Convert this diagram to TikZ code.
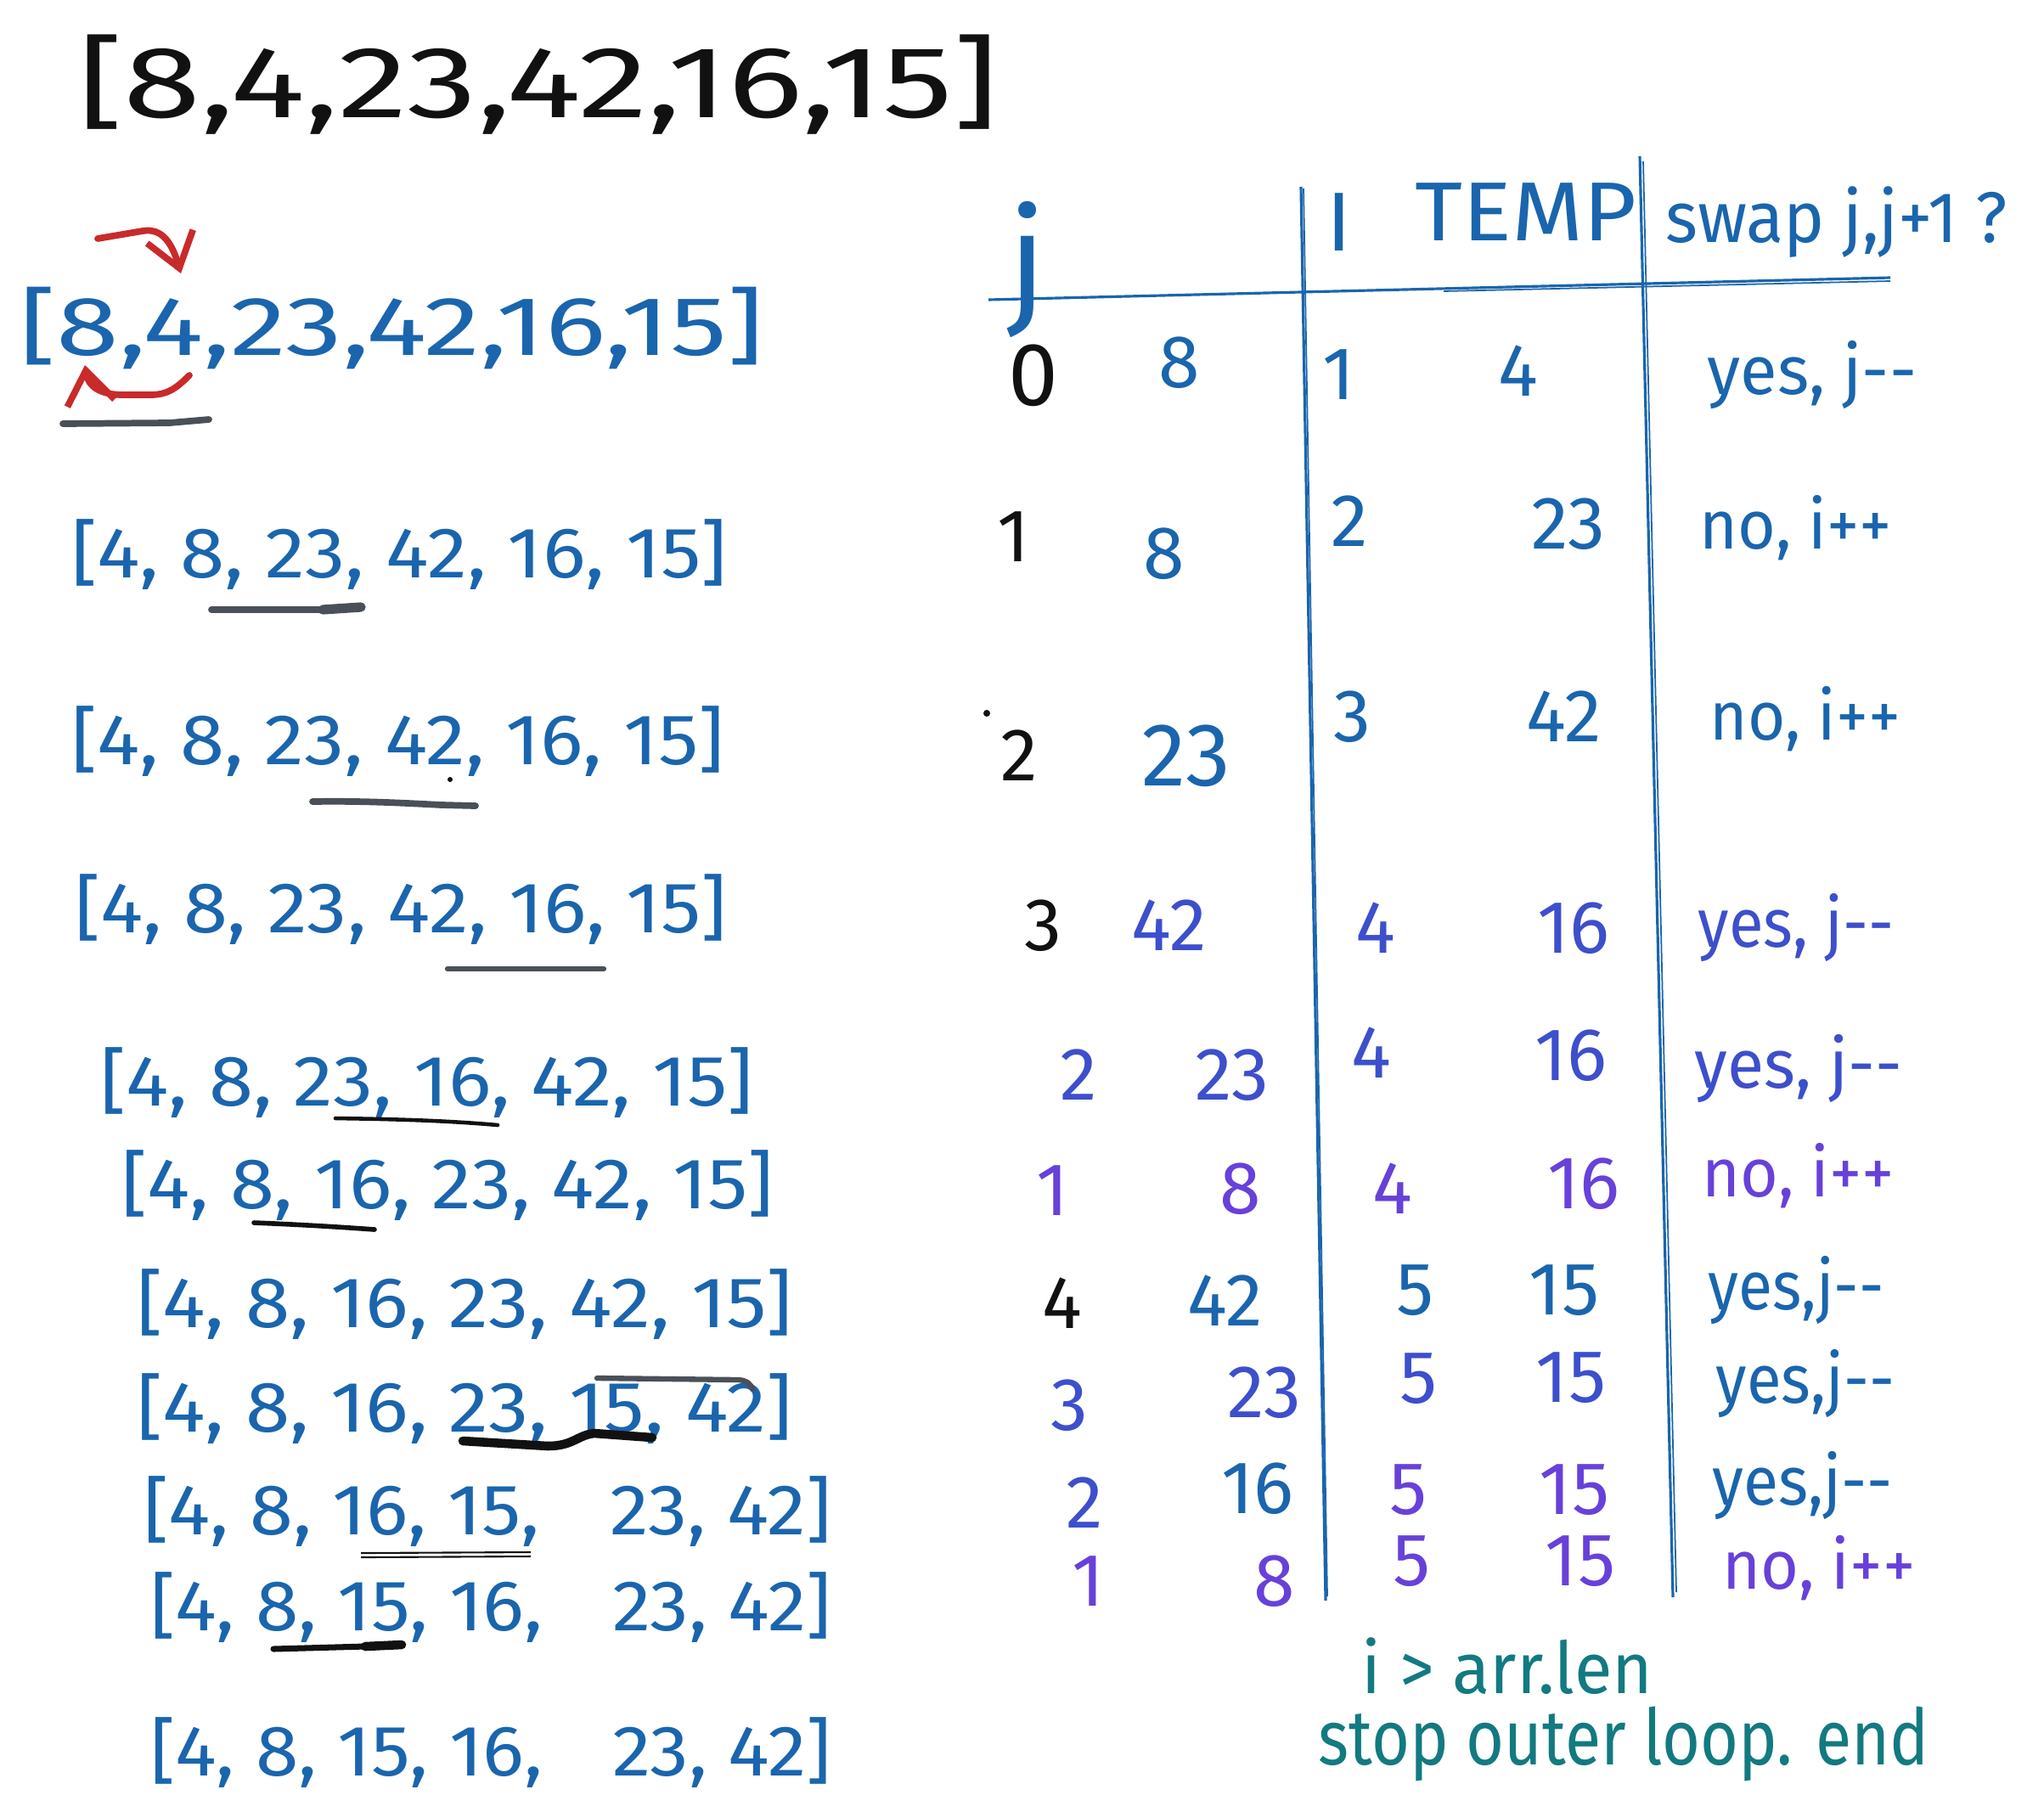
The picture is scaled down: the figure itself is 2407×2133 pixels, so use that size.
\documentclass[tikz,border=0pt]{standalone}
\usepackage{fontspec}
\setmainfont{Fira Sans}
\usepackage{graphicx}
\usetikzlibrary{arrows.meta}
\definecolor{cblue}{HTML}{1A65AD}
\definecolor{cindigo}{HTML}{3D4FCC}
\definecolor{cpurple}{HTML}{6741D9}
\definecolor{cteal}{HTML}{127A80}
\definecolor{cred}{HTML}{C92A2A}
\definecolor{cgray}{HTML}{495057}
\definecolor{cink}{HTML}{111111}
\newcommand\fw[2]{\resizebox{#1cm}{\height}{#2}}
\begin{document}
\begin{tikzpicture}[x=0.01cm,y=-0.01cm,
  arr/.style={anchor=base west,inner sep=0pt,text=cblue,font=\fontsize{24}{24}\selectfont},
  cell/.style={inner sep=0pt,font=\fontsize{25}{25}\selectfont},
  swp/.style={inner sep=0pt,font=\fontsize{23}{23}\selectfont},
  tb/.style={cell,text=cblue},
  ti/.style={cell,text=cindigo},
  tp/.style={cell,text=cpurple},
  tk/.style={cell,text=cink},
  ul/.style={line width=2.2pt,line cap=round,draw=cgray},
  ulk/.style={line width=2.2pt,line cap=round,draw=cink},
  grid/.style={line width=0.9pt,draw=cblue},
  grid2/.style={line width=0.5pt,draw=cblue},
  redarr/.style={line width=2.2pt,draw=cred,line cap=round,-{Straight Barb[length=11pt,width=16pt,line width=2.2pt]}}]
\useasboundingbox (0,0) rectangle (2407,2133);
\fill[white] (0,0) rectangle (2407,2133);

% title
\node[anchor=base west,inner sep=0pt,text=cink,font=\fontsize{34}{34}\selectfont] (title) at (92,138) {\fw{10.82}{[8,4,23,42,16,15]}};

% big blue array
\node[anchor=base west,inner sep=0pt,text=cblue,font=\fontsize{28}{28}\selectfont] (big) at (23,418) {\fw{8.75}{[8,4,23,42,16,15]}};
\draw[redarr] (115,281) -- (168,272) .. controls (192,268) and (203,288) .. (213,322);
\draw[redarr] (223,442) .. controls (205,460) and (195,466) .. (170,465) -- (145,465) .. controls (118,465) and (104,455) .. (100,430);
\draw[ul] (74,499) -- (200,498) -- (246,494);

% rows
\node[arr] (r1) at (84,680) {\fw{7.71}{[4, 8, 23, 42, 16, 15]}};
\node[arr] (r2) at (84,900) {\fw{7.68}{[4, 8, 23, 42, 16, 15]}};
\node[arr] (r3) at (88,1098) {\fw{7.67}{[4, 8, 23, 42, 16, 15]}};
\node[arr] (r4) at (118,1302) {\fw{7.68}{[4, 8, 23, 16, 42, 15]}};
\node[arr] (r5) at (143,1423) {\fw{7.67}{[4, 8, 16, 23, 42, 15]}};
\node[arr] (r6) at (161,1563) {\fw{7.71}{[4, 8, 16, 23, 42, 15]}};
\node[arr] (r7) at (161,1686) {\fw{7.71}{[4, 8, 16, 23, 15, 42]}};
\node[arr] (r8) at (169,1807) {\fw{8.09}{[4, 8, 16, 15,\hspace{0.9em}23, 42]}};
\node[arr] (r9) at (177,1920) {\fw{8.01}{[4, 8, 15, 16,\hspace{0.9em}23, 42]}};
\node[arr] (r10) at (177,2091) {\fw{8.01}{[4, 8, 15, 16,\hspace{0.9em}23, 42]}};

% underlines
\draw[ul] (249,718) -- (380,718);
\draw[ul,line width=3.2pt] (380,718) -- (425,715);
\draw[ul] (368,944) .. controls (430,943) and (480,946) .. (520,948) -- (560,949);
\fill[cink] (530,918) circle (3);
\draw[ul,line width=1.8pt] (527,1141) -- (711,1141);
\draw[ulk,line width=1.3pt] (395,1317) .. controls (470,1318) and (530,1320) .. (586,1325);
\draw[ulk,line width=1.6pt] (299,1440) .. controls (350,1442) and (400,1445) .. (441,1448);
\draw[ulk,line width=3pt] (545,1697) -- (645,1703) .. controls (675,1703) and (680,1690) .. (700,1688) -- (768,1693);
\draw[ul,line width=1.8pt] (703,1623) -- (870,1625) .. controls (880,1626) and (884,1630) .. (886,1636);
\draw[cink,line width=0.6pt] (425,1829) -- (625,1828);
\draw[cink,line width=0.6pt] (425,1834) -- (625,1833);
\draw[ulk,line width=2pt] (322,1942) -- (430,1939);
\draw[ulk,line width=3pt] (430,1939) -- (473,1937);

% table lines
\draw[grid] (1164,353) -- (2226,327);
\draw[grid2] (1700,343) -- (2226,331);
\draw[grid] (1532,220) -- (1561,1885);
\draw[grid2] (1535,222) -- (1563,1880);
\draw[grid] (1931,184) -- (1970,1881);
\draw[grid2] (1935,190) -- (1974,1875);

% headers
\node[inner sep=0pt,text=cblue,font=\fontsize{46}{46}\selectfont] (hj) at (1210,318) {j};
\node[inner sep=0pt,text=cblue,font=\fontsize{28}{28}\selectfont] (hi) at (1577,262) {I};
\node[inner sep=0pt,text=cblue,font=\fontsize{28}{28}\selectfont] (htemp) at (1797,250) {\fw{2.61}{TEMP}};
\node[inner sep=0pt,text=cblue,font=\fontsize{24}{24}\selectfont] (hswap) at (2163,262) {\fw{4.02}{swap j,j+1 ?}};

% row 0
\node[tk,font=\fontsize{30}{30}\selectfont] (a0) at (1217,442) {0};
\node[tb] (b0) at (1389,427) {8};
\node[tb] (c0) at (1577,441) {1};
\node[tb] (d0) at (1788,437) {4};
\node[swp,text=cblue] (e0) at (2134,442) {\fw{2.46}{yes, j-{}-}};
% row 1
\node[tk] (a1) at (1194,632) {1};
\node[tb] (b1) at (1371,652) {8};
\node[tb] (c1) at (1589,614) {2};
\node[tb] (d1) at (1847,617) {23};
\node[swp,text=cblue] (e1) at (2115,622) {\fw{2.26}{no, i++}};
% row 2
\fill[cink] (1162,840) circle (4);
\node[tk] (a2) at (1200,890) {2};
\node[tb,font=\fontsize{30}{30}\selectfont] (b2) at (1397,890) {23};
\node[tb] (c2) at (1592,844) {3};
\node[tb] (d2) at (1842,844) {42};
\node[swp,text=cblue] (e2) at (2126,847) {\fw{2.24}{no, i++}};
% row 3
\node[tk] (a3) at (1228,1090) {3};
\node[ti] (b3) at (1377,1090) {42};
\node[ti] (c3) at (1620,1093) {4};
\node[ti] (d3) at (1853,1093) {16};
\node[swp,text=cindigo] (e3) at (2115,1093) {\fw{2.30}{yes, j-{}-}};
% row 4
\node[ti] (a4) at (1270,1266) {2};
\node[ti] (b4) at (1451,1266) {23};
\node[ti] (c4) at (1615,1240) {4};
\node[ti] (d4) at (1850,1243) {16};
\node[swp,text=cindigo] (e4) at (2118,1259) {\fw{2.44}{yes, j-{}-}};
% row 5
\node[tp] (a5) at (1240,1402) {1};
\node[tp] (b5) at (1461,1400) {8};
\node[tp] (c5) at (1640,1400) {4};
\node[tp] (d5) at (1865,1394) {16};
\node[swp,text=cpurple] (e5) at (2118,1385) {\fw{2.26}{no, i++}};
% row 6
\node[tk] (a6) at (1251,1535) {4};
\node[tb] (b6) at (1443,1532) {42};
\node[tb] (c6) at (1666,1520) {5};
\node[tb] (d6) at (1842,1520) {15};
\node[swp,text=cblue] (e6) at (2115,1520) {\fw{2.07}{yes,j-{}-}};
% row 7
\node[ti] (a7) at (1259,1655) {3};
\node[ti] (b7) at (1489,1640) {23};
\node[ti] (c7) at (1670,1624) {5};
\node[ti] (d7) at (1850,1623) {15};
\node[swp,text=cblue] (e7) at (2126,1630) {\fw{2.10}{yes,j-{}-}};
% row 8
\node[ti] (a8) at (1277,1770) {2};
\node[tb] (b8) at (1481,1753) {16};
\node[tp] (c8) at (1658,1755) {5};
\node[tp] (d8) at (1854,1755) {15};
\node[swp,text=cblue] (e8) at (2123,1750) {\fw{2.12}{yes,j-{}-}};
% row 9
\node[tp] (a9) at (1282,1862) {1};
\node[tp] (b9) at (1501,1862) {8};
\node[tp] (c9) at (1662,1839) {5};
\node[tp] (d9) at (1861,1839) {15};
\node[swp,text=cpurple] (e9) at (2142,1847) {\fw{2.27}{no, i++}};

% bottom note
\node[inner sep=0pt,text=cteal,font=\fontsize{24}{24}\selectfont] (n1) at (1775,1962) {\fw{3.42}{i > arr.len}};
\node[inner sep=0pt,text=cteal,font=\fontsize{26}{26}\selectfont] (n2) at (1912,2054) {\fw{7.19}{stop outer loop. end}};
\end{tikzpicture}
\end{document}
